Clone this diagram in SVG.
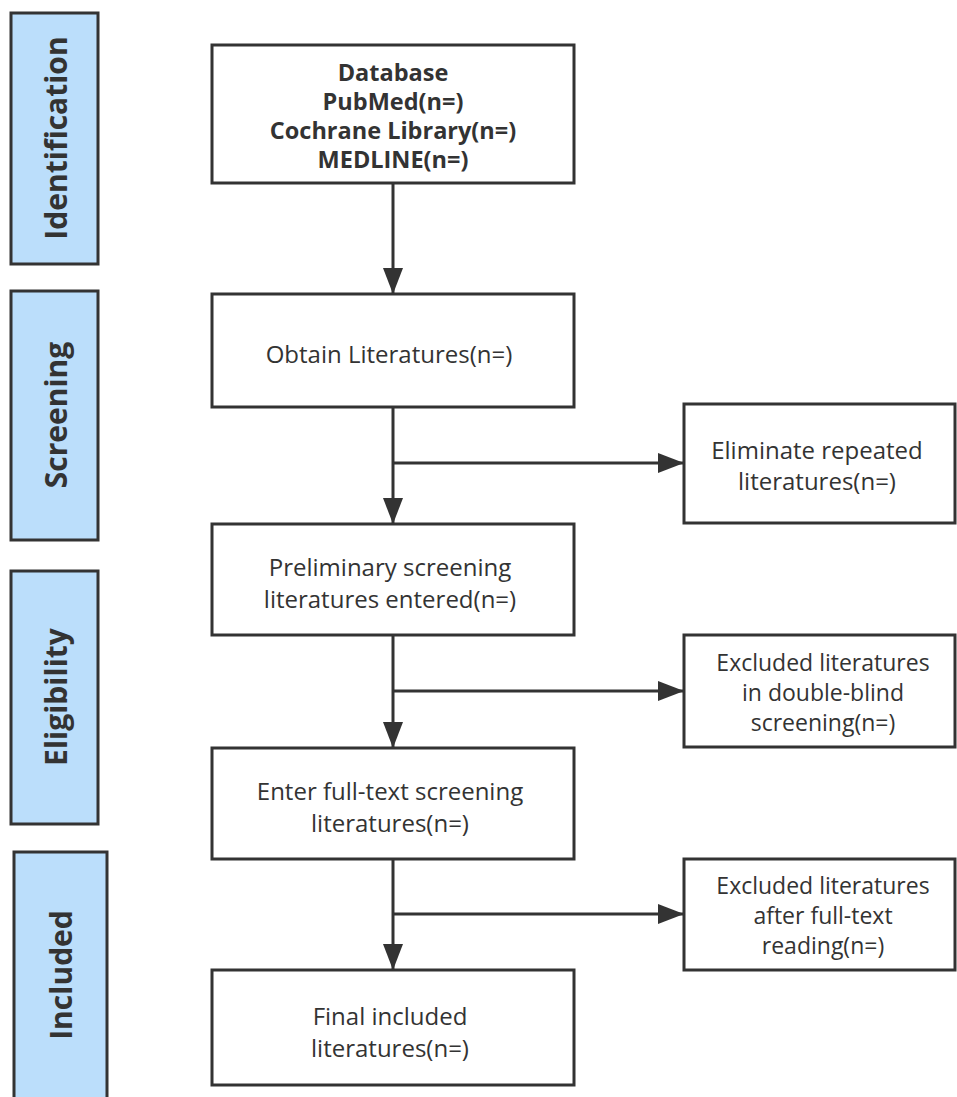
<svg xmlns="http://www.w3.org/2000/svg" width="957" height="1097" viewBox="0 0 957 1097">
<defs>
<style>
.side{fill:#bbdefb;stroke:#333;stroke-width:3}
.box{fill:#fff;stroke:#333;stroke-width:3}
.t{font-family:"Open Sans","Noto Sans",sans-serif;font-size:24px;fill:#333;text-anchor:middle;dominant-baseline:central}
.r{font-size:23px}
.b{font-weight:bold;font-size:23.5px}
.st{font-family:"Open Sans","Noto Sans",sans-serif;font-size:30px;font-weight:bold;fill:#333;text-anchor:middle;dominant-baseline:central}
.c{stroke:#333;stroke-width:3;fill:none}
</style>
<marker id="arr" viewBox="0 0 26 22" refX="26" refY="11" markerWidth="26" markerHeight="22" orient="auto" markerUnits="userSpaceOnUse">
<path d="M0,1 L26,11 L0,21 Z" fill="#333"/>
</marker>
</defs>
<rect width="957" height="1097" fill="#fff"/>
<g id="stage-identification"><rect class="side" x="11" y="13" width="87" height="251"/><text class="st" transform="translate(55,138) rotate(-90)">Identification</text></g>
<g id="stage-screening"><rect class="side" x="11" y="291" width="87" height="249"/><text class="st" transform="translate(55,415) rotate(-90)">Screening</text></g>
<g id="stage-eligibility"><rect class="side" x="11" y="571" width="87" height="253"/><text class="st" transform="translate(55,697) rotate(-90)">Eligibility</text></g>
<g id="stage-included"><rect class="side" x="14" y="852" width="93" height="250"/><text class="st" transform="translate(60,975) rotate(-90)">Included</text></g>
<g id="connectors">
<line class="c" x1="393" y1="183" x2="393" y2="294" marker-end="url(#arr)"/>
<line class="c" x1="393" y1="407" x2="393" y2="524" marker-end="url(#arr)"/>
<line class="c" x1="393" y1="463" x2="684" y2="463" marker-end="url(#arr)"/>
<line class="c" x1="393" y1="635" x2="393" y2="748" marker-end="url(#arr)"/>
<line class="c" x1="393" y1="691" x2="684" y2="691" marker-end="url(#arr)"/>
<line class="c" x1="393" y1="859" x2="393" y2="970" marker-end="url(#arr)"/>
<line class="c" x1="393" y1="914" x2="684" y2="914" marker-end="url(#arr)"/>
</g>
<g id="database"><rect class="box" x="212" y="45" width="362" height="138"/>
<text class="t b" x="393" y="72">Database</text>
<text class="t b" x="393" y="101">PubMed(n=)</text>
<text class="t b" x="393" y="130">Cochrane Library(n=)</text>
<text class="t b" x="393" y="159">MEDLINE(n=)</text></g>
<g id="obtain"><rect class="box" x="212" y="294" width="362" height="113"/>
<text class="t" x="389" y="353">Obtain Literatures(n=)</text></g>
<g id="preliminary"><rect class="box" x="212" y="524" width="362" height="111"/>
<text class="t" x="390" y="566">Preliminary screening</text>
<text class="t" x="390" y="598">literatures entered(n=)</text></g>
<g id="fulltext"><rect class="box" x="212" y="748" width="362" height="111"/>
<text class="t" x="390" y="790">Enter full-text screening</text>
<text class="t" x="390" y="822">literatures(n=)</text></g>
<g id="final"><rect class="box" x="212" y="970" width="362" height="115"/>
<text class="t" x="390" y="1015">Final included</text>
<text class="t" x="390" y="1047">literatures(n=)</text></g>
<g id="eliminate"><rect class="box" x="684" y="404" width="271" height="119"/>
<text class="t" x="817" y="449">Eliminate repeated</text>
<text class="t" x="817" y="480">literatures(n=)</text></g>
<g id="excluded-double"><rect class="box" x="684" y="635" width="271" height="112"/>
<text class="t r" x="823" y="662">Excluded literatures</text>
<text class="t r" x="823" y="692">in double-blind</text>
<text class="t r" x="823" y="722">screening(n=)</text></g>
<g id="excluded-fulltext"><rect class="box" x="684" y="859" width="271" height="111"/>
<text class="t r" x="823" y="885">Excluded literatures</text>
<text class="t r" x="823" y="915">after full-text</text>
<text class="t r" x="823" y="945">reading(n=)</text></g>
</svg>
